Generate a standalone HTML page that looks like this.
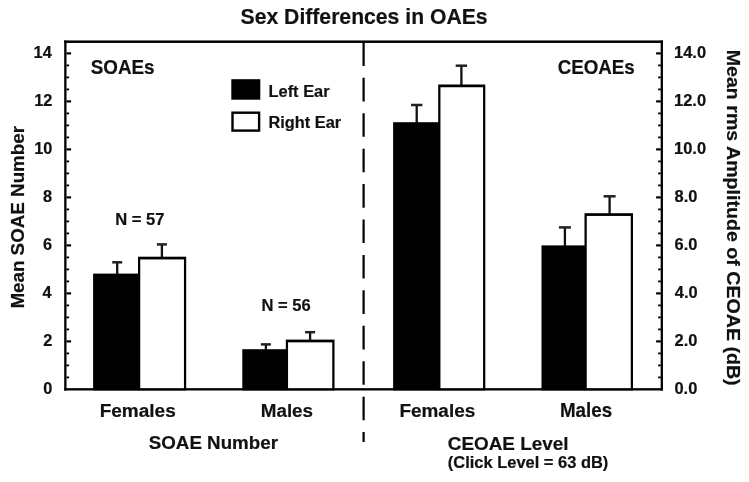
<!DOCTYPE html>
<html><head><meta charset="utf-8"><title>Sex Differences in OAEs</title>
<style>
html,body{margin:0;padding:0;background:#fff;}
svg{display:block;filter:blur(0.45px)}
text{font-family:"Liberation Sans",Arial,Helvetica,sans-serif;font-weight:bold;fill:#111;stroke:#111;stroke-width:0.2px;}
</style></head>
<body>
<svg width="749" height="482" viewBox="0 0 749 482">
<rect width="749" height="482" fill="#fff"/>
<rect x="64.2" y="40.45" width="598.75" height="2.5" fill="#000"/>
<rect x="64.2" y="388.15" width="598.75" height="2.35" fill="#000"/>
<rect x="64.2" y="40.45" width="2.3" height="350.05" fill="#000"/>
<rect x="660.65" y="40.45" width="2.3" height="350.05" fill="#000"/>
<line x1="66.40" x2="69.10" y1="377.40" y2="377.40" stroke="#000" stroke-width="1.8"/>
<line x1="660.80" x2="658.10" y1="377.40" y2="377.40" stroke="#000" stroke-width="1.8"/>
<line x1="66.40" x2="69.10" y1="365.40" y2="365.40" stroke="#000" stroke-width="1.8"/>
<line x1="660.80" x2="658.10" y1="365.40" y2="365.40" stroke="#000" stroke-width="1.8"/>
<line x1="66.40" x2="69.10" y1="353.40" y2="353.40" stroke="#000" stroke-width="1.8"/>
<line x1="660.80" x2="658.10" y1="353.40" y2="353.40" stroke="#000" stroke-width="1.8"/>
<line x1="66.40" x2="71.10" y1="341.40" y2="341.40" stroke="#000" stroke-width="2.2"/>
<line x1="660.80" x2="656.10" y1="341.40" y2="341.40" stroke="#000" stroke-width="2.2"/>
<line x1="66.40" x2="69.10" y1="329.40" y2="329.40" stroke="#000" stroke-width="1.8"/>
<line x1="660.80" x2="658.10" y1="329.40" y2="329.40" stroke="#000" stroke-width="1.8"/>
<line x1="66.40" x2="69.10" y1="317.40" y2="317.40" stroke="#000" stroke-width="1.8"/>
<line x1="660.80" x2="658.10" y1="317.40" y2="317.40" stroke="#000" stroke-width="1.8"/>
<line x1="66.40" x2="69.10" y1="305.40" y2="305.40" stroke="#000" stroke-width="1.8"/>
<line x1="660.80" x2="658.10" y1="305.40" y2="305.40" stroke="#000" stroke-width="1.8"/>
<line x1="66.40" x2="71.10" y1="293.40" y2="293.40" stroke="#000" stroke-width="2.2"/>
<line x1="660.80" x2="656.10" y1="293.40" y2="293.40" stroke="#000" stroke-width="2.2"/>
<line x1="66.40" x2="69.10" y1="281.40" y2="281.40" stroke="#000" stroke-width="1.8"/>
<line x1="660.80" x2="658.10" y1="281.40" y2="281.40" stroke="#000" stroke-width="1.8"/>
<line x1="66.40" x2="69.10" y1="269.40" y2="269.40" stroke="#000" stroke-width="1.8"/>
<line x1="660.80" x2="658.10" y1="269.40" y2="269.40" stroke="#000" stroke-width="1.8"/>
<line x1="66.40" x2="69.10" y1="257.40" y2="257.40" stroke="#000" stroke-width="1.8"/>
<line x1="660.80" x2="658.10" y1="257.40" y2="257.40" stroke="#000" stroke-width="1.8"/>
<line x1="66.40" x2="71.10" y1="245.40" y2="245.40" stroke="#000" stroke-width="2.2"/>
<line x1="660.80" x2="656.10" y1="245.40" y2="245.40" stroke="#000" stroke-width="2.2"/>
<line x1="66.40" x2="69.10" y1="233.40" y2="233.40" stroke="#000" stroke-width="1.8"/>
<line x1="660.80" x2="658.10" y1="233.40" y2="233.40" stroke="#000" stroke-width="1.8"/>
<line x1="66.40" x2="69.10" y1="221.40" y2="221.40" stroke="#000" stroke-width="1.8"/>
<line x1="660.80" x2="658.10" y1="221.40" y2="221.40" stroke="#000" stroke-width="1.8"/>
<line x1="66.40" x2="69.10" y1="209.40" y2="209.40" stroke="#000" stroke-width="1.8"/>
<line x1="660.80" x2="658.10" y1="209.40" y2="209.40" stroke="#000" stroke-width="1.8"/>
<line x1="66.40" x2="71.10" y1="197.40" y2="197.40" stroke="#000" stroke-width="2.2"/>
<line x1="660.80" x2="656.10" y1="197.40" y2="197.40" stroke="#000" stroke-width="2.2"/>
<line x1="66.40" x2="69.10" y1="185.40" y2="185.40" stroke="#000" stroke-width="1.8"/>
<line x1="660.80" x2="658.10" y1="185.40" y2="185.40" stroke="#000" stroke-width="1.8"/>
<line x1="66.40" x2="69.10" y1="173.40" y2="173.40" stroke="#000" stroke-width="1.8"/>
<line x1="660.80" x2="658.10" y1="173.40" y2="173.40" stroke="#000" stroke-width="1.8"/>
<line x1="66.40" x2="69.10" y1="161.40" y2="161.40" stroke="#000" stroke-width="1.8"/>
<line x1="660.80" x2="658.10" y1="161.40" y2="161.40" stroke="#000" stroke-width="1.8"/>
<line x1="66.40" x2="71.10" y1="149.40" y2="149.40" stroke="#000" stroke-width="2.2"/>
<line x1="660.80" x2="656.10" y1="149.40" y2="149.40" stroke="#000" stroke-width="2.2"/>
<line x1="66.40" x2="69.10" y1="137.40" y2="137.40" stroke="#000" stroke-width="1.8"/>
<line x1="660.80" x2="658.10" y1="137.40" y2="137.40" stroke="#000" stroke-width="1.8"/>
<line x1="66.40" x2="69.10" y1="125.40" y2="125.40" stroke="#000" stroke-width="1.8"/>
<line x1="660.80" x2="658.10" y1="125.40" y2="125.40" stroke="#000" stroke-width="1.8"/>
<line x1="66.40" x2="69.10" y1="113.40" y2="113.40" stroke="#000" stroke-width="1.8"/>
<line x1="660.80" x2="658.10" y1="113.40" y2="113.40" stroke="#000" stroke-width="1.8"/>
<line x1="66.40" x2="71.10" y1="101.40" y2="101.40" stroke="#000" stroke-width="2.2"/>
<line x1="660.80" x2="656.10" y1="101.40" y2="101.40" stroke="#000" stroke-width="2.2"/>
<line x1="66.40" x2="69.10" y1="89.40" y2="89.40" stroke="#000" stroke-width="1.8"/>
<line x1="660.80" x2="658.10" y1="89.40" y2="89.40" stroke="#000" stroke-width="1.8"/>
<line x1="66.40" x2="69.10" y1="77.40" y2="77.40" stroke="#000" stroke-width="1.8"/>
<line x1="660.80" x2="658.10" y1="77.40" y2="77.40" stroke="#000" stroke-width="1.8"/>
<line x1="66.40" x2="69.10" y1="65.40" y2="65.40" stroke="#000" stroke-width="1.8"/>
<line x1="660.80" x2="658.10" y1="65.40" y2="65.40" stroke="#000" stroke-width="1.8"/>
<line x1="66.40" x2="71.10" y1="53.40" y2="53.40" stroke="#000" stroke-width="2.2"/>
<line x1="660.80" x2="656.10" y1="53.40" y2="53.40" stroke="#000" stroke-width="2.2"/>
<line x1="363.6" x2="363.6" y1="42.35" y2="442" stroke="#000" stroke-width="2.2" stroke-dasharray="23.6 11.83"/>
<rect x="116.05" y="262.30" width="2.3" height="12.30" fill="#111"/>
<rect x="112.20" y="261.05" width="10.0" height="2.5" fill="#222"/>
<rect x="160.75" y="244.40" width="2.3" height="13.30" fill="#111"/>
<rect x="156.90" y="243.15" width="10.0" height="2.5" fill="#222"/>
<rect x="93.1" y="273.6" width="45.90" height="116.80" fill="#000"/>
<rect x="138.00" y="256.70" width="48.20" height="133.70" fill="#000"/>
<rect x="140.25" y="259.45" width="43.70" height="128.70" fill="#fff"/>
<rect x="264.75" y="344.40" width="2.3" height="5.80" fill="#111"/>
<rect x="260.90" y="343.15" width="10.0" height="2.5" fill="#222"/>
<rect x="308.95" y="332.20" width="2.3" height="8.40" fill="#111"/>
<rect x="305.10" y="330.95" width="10.0" height="2.5" fill="#222"/>
<rect x="242.3" y="349.2" width="44.50" height="41.20" fill="#000"/>
<rect x="285.80" y="339.60" width="48.70" height="50.80" fill="#000"/>
<rect x="288.05" y="342.35" width="44.20" height="45.80" fill="#fff"/>
<rect x="415.55" y="105.00" width="2.3" height="18.20" fill="#111"/>
<rect x="411.00" y="103.75" width="11.4" height="2.5" fill="#222"/>
<rect x="460.25" y="65.70" width="2.3" height="19.80" fill="#111"/>
<rect x="455.70" y="64.45" width="11.4" height="2.5" fill="#222"/>
<rect x="393.1" y="122.2" width="46.10" height="268.20" fill="#000"/>
<rect x="438.20" y="84.50" width="47.10" height="305.90" fill="#000"/>
<rect x="440.45" y="87.25" width="42.60" height="300.90" fill="#fff"/>
<rect x="563.75" y="227.40" width="2.3" height="19.00" fill="#111"/>
<rect x="558.90" y="226.15" width="12.0" height="2.5" fill="#222"/>
<rect x="608.45" y="196.30" width="2.3" height="17.90" fill="#111"/>
<rect x="603.60" y="195.05" width="12.0" height="2.5" fill="#222"/>
<rect x="541.5" y="245.4" width="44.00" height="145.00" fill="#000"/>
<rect x="584.50" y="213.20" width="48.50" height="177.20" fill="#000"/>
<rect x="586.75" y="215.95" width="44.00" height="172.20" fill="#fff"/>
<rect x="231.3" y="79.2" width="29" height="20.5" fill="#000"/>
<rect x="232.5" y="112.7" width="26.6" height="17.9" fill="#fff" stroke="#000" stroke-width="2.4"/>
<text x="240.57" y="23.50" font-size="21.4" textLength="247.02" lengthAdjust="spacingAndGlyphs">Sex Differences in OAEs</text>
<text x="43.21" y="394.20" font-size="16.3" textLength="9.07" lengthAdjust="spacingAndGlyphs">0</text>
<text x="674.44" y="394.20" font-size="16.3" textLength="22.89" lengthAdjust="spacingAndGlyphs">0.0</text>
<text x="43.21" y="346.20" font-size="16.3" textLength="9.07" lengthAdjust="spacingAndGlyphs">2</text>
<text x="674.52" y="346.20" font-size="16.3" textLength="22.89" lengthAdjust="spacingAndGlyphs">2.0</text>
<text x="42.63" y="298.20" font-size="16.3" textLength="9.07" lengthAdjust="spacingAndGlyphs">4</text>
<text x="674.85" y="298.20" font-size="16.3" textLength="22.89" lengthAdjust="spacingAndGlyphs">4.0</text>
<text x="43.12" y="250.20" font-size="16.3" textLength="9.07" lengthAdjust="spacingAndGlyphs">6</text>
<text x="674.52" y="250.20" font-size="16.3" textLength="22.89" lengthAdjust="spacingAndGlyphs">6.0</text>
<text x="43.04" y="202.20" font-size="16.3" textLength="9.07" lengthAdjust="spacingAndGlyphs">8</text>
<text x="674.61" y="202.20" font-size="16.3" textLength="22.89" lengthAdjust="spacingAndGlyphs">8.0</text>
<text x="34.16" y="154.20" font-size="16.3" textLength="18.13" lengthAdjust="spacingAndGlyphs">10</text>
<text x="674.03" y="154.20" font-size="16.3" textLength="32.04" lengthAdjust="spacingAndGlyphs">10.0</text>
<text x="34.16" y="106.20" font-size="16.3" textLength="18.13" lengthAdjust="spacingAndGlyphs">12</text>
<text x="674.03" y="106.20" font-size="16.3" textLength="32.04" lengthAdjust="spacingAndGlyphs">12.0</text>
<text x="33.59" y="58.20" font-size="16.3" textLength="18.13" lengthAdjust="spacingAndGlyphs">14</text>
<text x="674.03" y="58.20" font-size="16.3" textLength="32.04" lengthAdjust="spacingAndGlyphs">14.0</text>
<text x="90.74" y="74.40" font-size="19.3" textLength="63.82" lengthAdjust="spacingAndGlyphs">SOAEs</text>
<text x="557.65" y="74.30" font-size="19.3" textLength="77.15" lengthAdjust="spacingAndGlyphs">CEOAEs</text>
<text x="268.53" y="96.70" font-size="16.2" textLength="61.08" lengthAdjust="spacingAndGlyphs">Left Ear</text>
<text x="268.54" y="128.20" font-size="16.0" textLength="72.61" lengthAdjust="spacingAndGlyphs">Right Ear</text>
<text x="115.22" y="224.60" font-size="16.3" textLength="49.31" lengthAdjust="spacingAndGlyphs">N = 57</text>
<text x="261.42" y="311.00" font-size="16.0" textLength="49.24" lengthAdjust="spacingAndGlyphs">N = 56</text>
<text x="99.67" y="417.20" font-size="19.1" textLength="76.04" lengthAdjust="spacingAndGlyphs">Females</text>
<text x="260.78" y="417.20" font-size="19.1" textLength="52.26" lengthAdjust="spacingAndGlyphs">Males</text>
<text x="399.47" y="417.20" font-size="19.1" textLength="75.73" lengthAdjust="spacingAndGlyphs">Females</text>
<text x="559.98" y="417.40" font-size="19.3" textLength="52.16" lengthAdjust="spacingAndGlyphs">Males</text>
<text x="148.74" y="449.00" font-size="19.1" textLength="129.25" lengthAdjust="spacingAndGlyphs">SOAE Number</text>
<text x="447.85" y="449.60" font-size="19.1" textLength="120.60" lengthAdjust="spacingAndGlyphs">CEOAE Level</text>
<text x="447.88" y="468.40" font-size="15.8" textLength="160.43" lengthAdjust="spacingAndGlyphs">(Click Level = 63 dB)</text>
<text transform="translate(23.50,307.40) rotate(-90)" x="-1.22" y="0" font-size="18.9" textLength="182.69" lengthAdjust="spacingAndGlyphs">Mean SOAE Number</text>
<text transform="translate(726.90,51.00) rotate(90)" x="-1.27" y="0" font-size="19.0" textLength="335.87" lengthAdjust="spacingAndGlyphs">Mean rms Amplitude of CEOAE (dB)</text>
</svg>
</body></html>
